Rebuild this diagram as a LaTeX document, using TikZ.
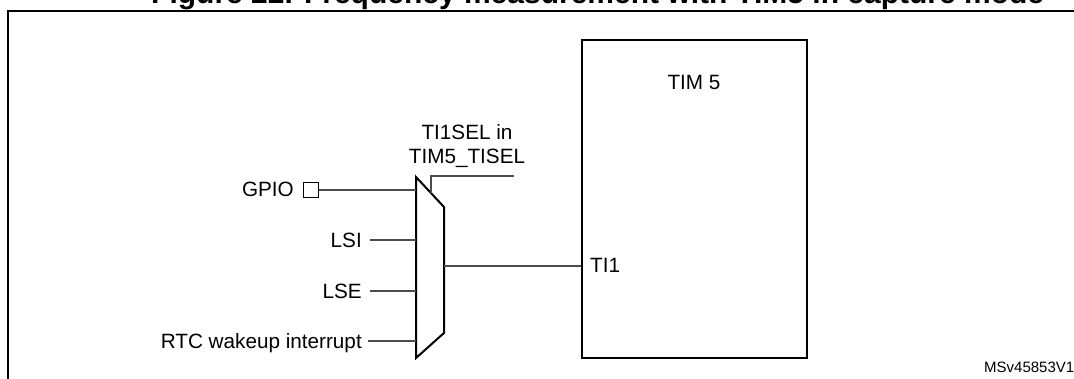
\documentclass[tikz,border=0pt]{standalone}
\usepackage{fontspec}
\setmainfont{Liberation Sans}
\begin{document}
\begin{tikzpicture}[x=1pt,y=-1pt,
  lbl/.style={font=\fontsize{20.7}{24}\selectfont, inner sep=0pt},
  wire/.style={line width=1.1pt, draw=black!70},
  outline/.style={line width=2pt, draw=black}]
\useasboundingbox (0,0) rectangle (1074,379);
\begin{scope}
\clip (0,0) rectangle (1074,379);
\node[anchor=base west, inner sep=0pt, font=\bfseries\fontsize{30}{36}\selectfont] (title) at (151,4) {Figure 22. Frequency measurement with TIM5 in capture mode};
\coordinate (frameBL) at (8,400);
\coordinate (frameTL) at (8,11);
\coordinate (frameTR) at (1100,11);
\draw[line width=2.5pt] (frameBL) -- (frameTL) -- (frameTR);
\end{scope}
% TIM5 block
\node[outline, anchor=north west, minimum width=225pt, minimum height=318pt, inner sep=0pt] (tim) at (581,39) {};
\node[lbl, anchor=base] (timlbl) at (694,90) {TIM 5};
\node[lbl, anchor=base west] (ti1) at (590,273) {TI1};
% multiplexer
\coordinate (mA) at (416,177);
\coordinate (mB) at (444,207);
\coordinate (mC) at (444,333);
\coordinate (mD) at (416,358);
\draw[outline, fill=white, line join=miter] (mA) -- (mB) -- (mC) -- (mD) -- cycle;
\coordinate (in1) at (416,190);
\coordinate (in2) at (416,240);
\coordinate (in3) at (416,291);
\coordinate (in4) at (416,341);
\coordinate (mout) at (444,266);
\coordinate (selp) at (431,193);
\coordinate (selc) at (431,176);
\coordinate (sele) at (514,176);
% inputs
\node[lbl, anchor=base east] (gpio) at (294,197) {GPIO};
\node[draw, line width=1pt, minimum size=15pt, inner sep=0pt] (pad) at (310.5,190.5) {};
\node[lbl, anchor=base east] (lsi) at (362,247.5) {LSI};
\node[lbl, anchor=base east] (lse) at (362,298.5) {LSE};
\node[lbl, anchor=base east] (rtc) at (362,348.5) {RTC wakeup interrupt};
\draw[wire] (pad.east |- in1) -- (in1);
\draw[wire] (lsi.base east) ++(8,-7.5) -- (in2);
\draw[wire] (lse.base east) ++(8,-7.5) -- (in3);
\draw[wire] (rtc.base east) ++(6,-7.5) -- (in4);
% output
\draw[wire] (mout) -- (mout -| tim.west);
% select
\draw[wire] (selp) -- (selc) -- (sele);
\node[lbl, anchor=base] (sel1) at (467,140) {TI1SEL in};
\node[lbl, anchor=base] (sel2) at (467,164) {TIM5\_TISEL};
% id
\node[anchor=base west, inner sep=0pt, font=\fontsize{15}{18}\selectfont] (msid) at (984,373) {MSv45853V1};
\end{tikzpicture}
\end{document}
